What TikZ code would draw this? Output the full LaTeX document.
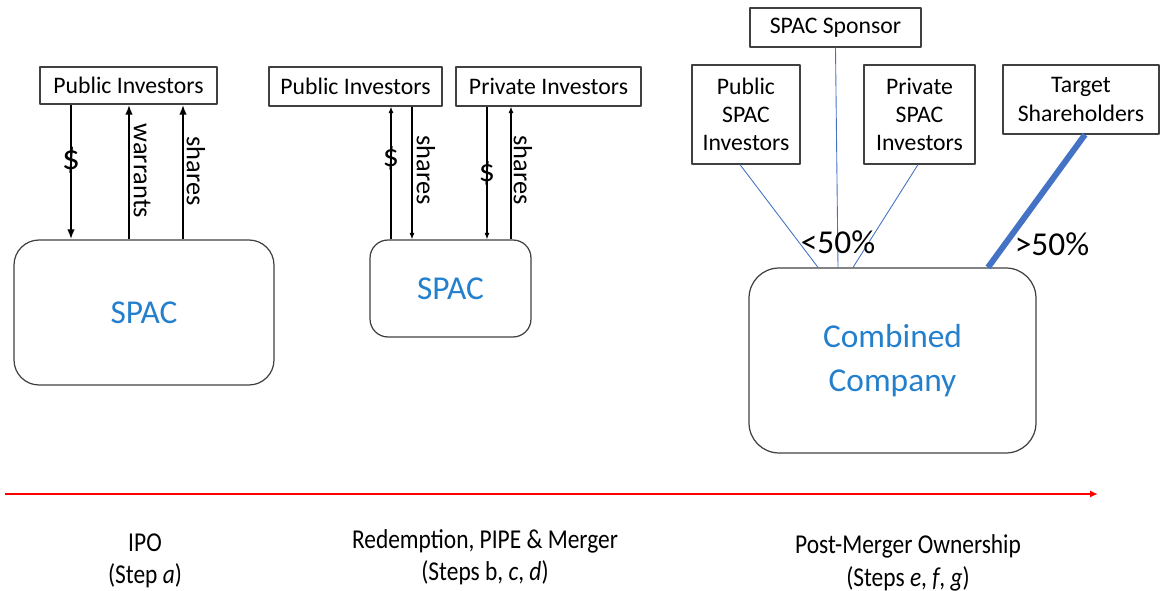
\documentclass[tikz,border=0pt]{standalone}
\usepackage{fontspec}
\setmainfont{Carlito}
\usepackage{tikz}
\usetikzlibrary{arrows.meta}
\definecolor{spacblue}{RGB}{36,128,204}
\definecolor{linkblue}{RGB}{68,114,196}
\newcommand{\narrow}[1]{\scalebox{0.86}[1]{#1}}

\begin{document}
\begin{tikzpicture}[x=0.02cm,y=-0.02cm,line join=round]
   \useasboundingbox (0,0) rectangle (1161,591);
   \tikzstyle{party}=[draw=black!75, line width=0.7pt, inner sep=2pt, font=\fontsize{13.5}{16}\selectfont, align=center]
   \tikzstyle{spac}=[draw=black!75, line width=0.7pt, text=spacblue, font=\fontsize{19}{22}\selectfont, align=center]
   \tikzstyle{flow}=[-{Latex[length=2mm,width=1.5mm]}, line width=1.4pt]
   \tikzstyle{thinflow}=[-{Latex[length=1.3mm,width=1mm]}, line width=0.6pt]
   \tikzstyle{vlabel}=[rotate=-90, font=\fontsize{15}{18}\selectfont]
   % IPO
   \node[party, minimum width=3.54cm, minimum height=0.74cm] (pubA) at (128.5,85.5) {Public Investors};
   \node[spac, rounded corners=0.5cm, minimum width=5.2cm, minimum height=2.9cm] (spacA) at (144,312.5) {SPAC};
   \path[flow] (pubA.south -| 71,0) edge (spacA.north -| 71,0);
   \path[flow] (spacA.north -| 129,0) edge (pubA.south -| 129,0);
   \path[flow] (spacA.north -| 183,0) edge (pubA.south -| 183,0);
   \node[font=\fontsize{20}{24}\selectfont] (dollarA) at (71,160) {\$};
   \node[vlabel] (warrA) at (142,171) {warrants};
   \node[vlabel] (shareA) at (196,171) {shares};
   % redemption, PIPE and merger
   \node[party, minimum width=3.46cm, minimum height=0.78cm] (pubB) at (355.5,86.5) {Public Investors};
   \node[party, minimum width=3.7cm, minimum height=0.78cm] (privB) at (548.5,86.5) {Private Investors};
   \node[spac, rounded corners=0.36cm, minimum width=3.22cm, minimum height=1.94cm] (spacB) at (450.5,288.5) {SPAC};
   \path[thinflow] (spacB.north -| 391,0) edge (pubB.south -| 391,0);
   \path[thinflow] (pubB.south -| 412,0) edge (spacB.north -| 412,0);
   \path[thinflow] (privB.south -| 487,0) edge (spacB.north -| 487,0);
   \path[thinflow] (spacB.north -| 511,0) edge (privB.south -| 511,0);
   \foreach \x/\y in {391/158,487/173} {
       \node[font=\fontsize{18}{22}\selectfont] (dollar\x) at (\x,\y) {\$};
   }
   \foreach \x in {426,523} {
       \node[vlabel] (share\x) at (\x,170) {shares};
   }
   % post-merger ownership
   \node[party, minimum width=3.42cm, minimum height=0.78cm] (sponsor) at (835.5,27.5) {SPAC Sponsor};
   \node[party, minimum width=2.16cm, minimum height=1.98cm] (pubC) at (746,114.5) {Public\\SPAC\\Investors};
   \node[party, minimum width=2.22cm, minimum height=1.98cm] (privC) at (919.5,114.5) {Private\\SPAC\\Investors};
   \node[party, minimum width=3.12cm, minimum height=1.38cm] (target) at (1081,99.5) {Target\\Shareholders};
   \node[spac, rounded corners=0.6cm, minimum width=5.74cm, minimum height=3.7cm, font=\fontsize{19}{25}\selectfont] (comb) at (892.5,360.5) {Combined\\Company};
   \path[linkblue, line width=0.5pt] (pubC.south -| 740,0) edge (comb.north -| 818,0);
   \path[linkblue, line width=0.5pt] (sponsor.south) edge (comb.north -| 838,0);
   \path[linkblue, line width=0.5pt] (privC.south -| 918,0) edge (comb.north -| 853,0);
   \path[linkblue, line width=3.4pt] (target.south -| 1085,0) edge (comb.north -| 988,0);
   \node[font=\fontsize{19}{22}\selectfont] (less) at (838,242) {<50\%};
   \node[font=\fontsize{19}{22}\selectfont] (more) at (1052,244) {>50\%};
   % timeline
   \coordinate (t0) at (5,494);
   \coordinate (t1) at (1098,494);
   \draw[red, line width=1.1pt, -{Latex[length=1.6mm,width=1.4mm]}] (t0) -- (t1);
   \tikzstyle{phase}=[font=\fontsize{15.5}{18.5}\selectfont, align=center]
   \node[phase] (ipo) at (145,561) {\narrow{IPO}\\\narrow{(Step \textit{a})}};
   \node[phase] (merger) at (485,557) {\narrow{Redemption, PIPE \& Merger}\\\narrow{(Steps b, \textit{c}, \textit{d})}};
   \node[phase] (post) at (908,563) {\narrow{Post-Merger Ownership}\\\narrow{(Steps \textit{e}, \textit{f}, \textit{g})}};
\end{tikzpicture}
\end{document}
